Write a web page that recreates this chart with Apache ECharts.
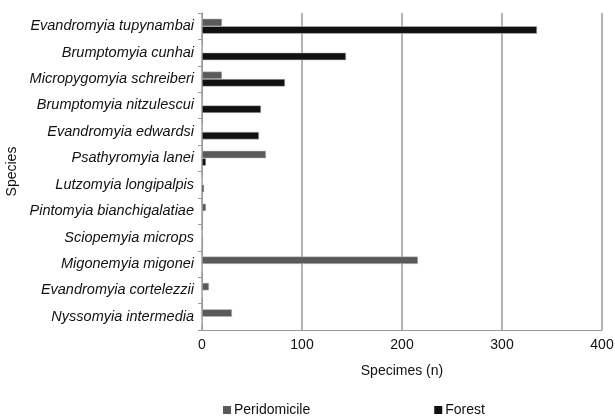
<!DOCTYPE html>
<html><head><meta charset="utf-8">
<script src="https://cdn.jsdelivr.net/npm/echarts@6/dist/echarts.min.js"></script>
<style>html,body{margin:0;padding:0;background:#fff}#c{width:615px;height:416px}</style>
</head><body><div id="c"></div>
<script>
const species = ["Evandromyia tupynambai","Brumptomyia cunhai","Micropygomyia schreiberi","Brumptomyia nitzulescui","Evandromyia edwardsi","Psathyromyia lanei","Lutzomyia longipalpis","Pintomyia bianchigalatiae","Sciopemyia microps","Migonemyia migonei","Evandromyia cortelezzii","Nyssomyia intermedia"];
const peridomicile = [20,0,20,1,0,64,0,4,0,216,7,30];
const forest = [335,144,83,59,57,4,2,1,1,0,0,0];
const xTicks = [0,100,200,300,400];

const chart = echarts.init(document.getElementById('c'));
const F = '"Liberation Sans", Arial, sans-serif';
chart.setOption({
  animation:false,
  textStyle:{fontFamily:F},
  grid:{left:202,right:13,top:13,bottom:86,containLabel:false,outerBoundsMode:'none'},
  legend:{bottom:-6,left:218,itemWidth:8,itemHeight:8,itemGap:124,icon:'rect',
    itemStyle:{borderWidth:0},
    textStyle:{fontSize:14,color:'#111',fontFamily:F,padding:[0,0,0,-2]},
    data:['Peridomicile','Forest']},
  xAxis:{type:'value',min:xTicks[0],max:xTicks[xTicks.length-1],interval:100,
    name:'Specimes (n)',nameLocation:'middle',nameGap:34,
    nameTextStyle:{fontSize:14,color:'#111',fontFamily:F},
    axisLine:{show:true,lineStyle:{color:'#999'}},axisTick:{show:false},
    axisLabel:{fontSize:14,color:'#111',fontFamily:F,margin:8},
    splitLine:{show:true,lineStyle:{color:'#9a9a9a',width:1.5}}},
  yAxis:{type:'category',data:species,inverse:true,
    name:'Species',nameLocation:'middle',nameGap:183,nameRotate:90,
    nameTextStyle:{fontSize:14,color:'#111',fontFamily:F},
    axisLine:{lineStyle:{color:'#999'}},axisTick:{show:true,length:4,lineStyle:{color:'#999'}},
    axisLabel:{fontSize:14.5,fontStyle:'italic',color:'#111',fontFamily:F,margin:8}},
  series:[
    {name:'Peridomicile',type:'bar',data:peridomicile,barWidth:7.5,barGap:'0%',
      itemStyle:{color:'#5a5a5a',borderColor:'#c8c8c8',borderWidth:0.5}},
    {name:'Forest',type:'bar',data:forest,barWidth:7.5,barGap:'0%',
      itemStyle:{color:'#111',borderColor:'#c8c8c8',borderWidth:0.5}}
  ]
});
</script></body></html>
